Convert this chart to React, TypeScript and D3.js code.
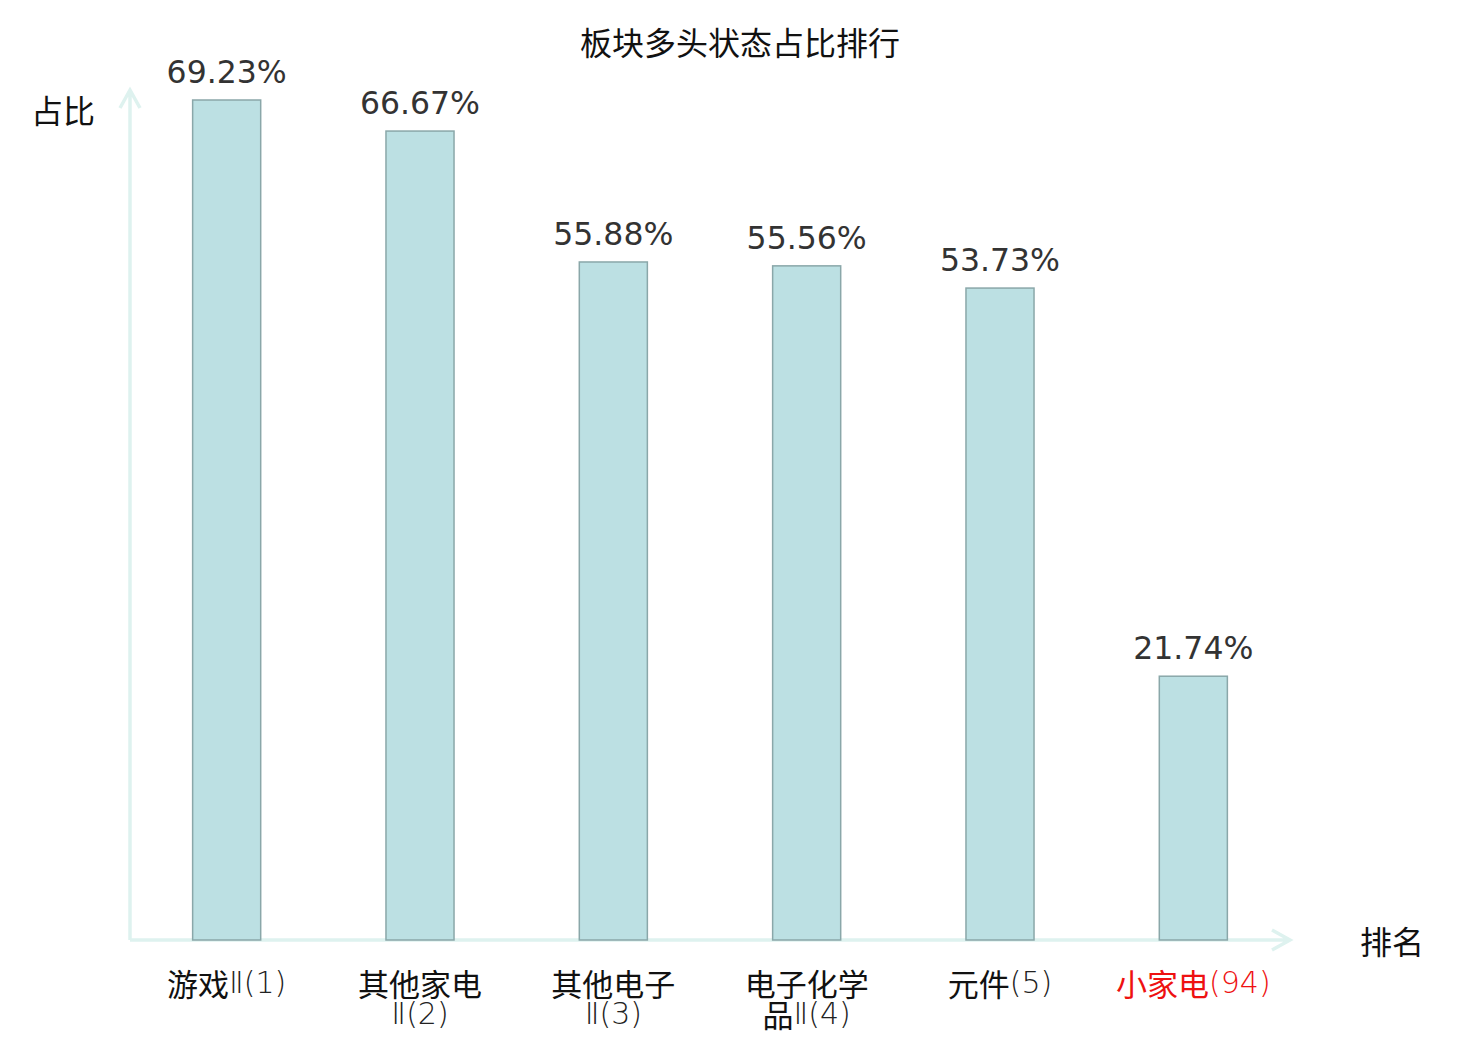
import * as d3 from 'd3';
import React from 'react';

// bull-state ratio by sector, top 5 + own sector
// each label: list of lines, each line = [cjk part, latin part]
const sectorNames: string[][][] = [
    [['游戏', 'Ⅱ(1)']],
    [['其他家电', ''], ['', 'Ⅱ(2)']],
    [['其他电子', ''], ['', 'Ⅱ(3)']],
    [['电子化学', ''], ['品', 'Ⅱ(4)']],
    [['元件', '(5)']],
    [['小家电', '(94)']],
];
const ratios: number[] = [69.23, 66.67, 55.88, 55.56, 53.73, 21.74];
const highlightIndex = 5;

const chartTitle = '板块多头状态占比排行';
const yLabel = '占比';
const xLabel = '排名';

const cjk = '"Noto Sans CJK SC", "DejaVu Sans", sans-serif';
const latin = '"DejaVu Sans", "Noto Sans CJK SC", sans-serif';

export default () => {
    const width = 1480;
    const height = 1040;
    const origin = { x: 130, y: 940 };
    const axisColor = '#def2ef';

    const ids = ratios.map((_, i) => String(i));
    const xScale = d3.scaleBand<string>()
        .domain(ids)
        .range([origin.x, 1290])
        .paddingInner(0.648)
        .paddingOuter(0.324);
    const yScale = d3.scaleLinear()
        .domain([0, d3.max(ratios) as number])
        .range([origin.y, 100]);
    const cx = (i: number) => (xScale(ids[i]) as number) + xScale.bandwidth() / 2;

    const yAxisPath = d3.path();
    yAxisPath.moveTo(origin.x, origin.y);
    yAxisPath.lineTo(origin.x, 90);
    yAxisPath.moveTo(origin.x - 10, 108);
    yAxisPath.lineTo(origin.x, 90);
    yAxisPath.lineTo(origin.x + 10, 108);

    const xAxisPath = d3.path();
    xAxisPath.moveTo(origin.x, origin.y);
    xAxisPath.lineTo(1290, origin.y);
    xAxisPath.moveTo(1272, origin.y - 10);
    xAxisPath.lineTo(1290, origin.y);
    xAxisPath.lineTo(1272, origin.y + 10);

    return (
        <svg width={width} height={height} style={{ display: 'block', position: 'absolute', left: 0, top: 0 }}>
            <rect width={width} height={height} fill="#fff" />
            <text x={740} y={41} textAnchor="middle" dominantBaseline="central"
                fontFamily={cjk} fontSize={32} fill="#111">{chartTitle}</text>

            <path d={yAxisPath.toString()} stroke={axisColor} strokeWidth={3.5} fill="none" />
            <path d={xAxisPath.toString()} stroke={axisColor} strokeWidth={3.5} fill="none" />

            <text x={63} y={109} textAnchor="middle" dominantBaseline="central"
                fontFamily={cjk} fontSize={32} fill="#111">{yLabel}</text>
            <text x={1392} y={940} textAnchor="middle" dominantBaseline="central"
                fontFamily={cjk} fontSize={32} fill="#111">{xLabel}</text>

            <g className="bars">
                {ratios.map((v, i) => (
                    <rect key={i}
                        x={xScale(ids[i])}
                        y={yScale(v)}
                        width={xScale.bandwidth()}
                        height={origin.y - yScale(v)}
                        fill="#bce0e3"
                        stroke="#8aa7a9"
                        strokeWidth={1.5} />
                ))}
            </g>

            <g className="values">
                {ratios.map((v, i) => (
                    <text key={i}
                        x={cx(i)}
                        y={yScale(v) - 17}
                        textAnchor="middle"
                        fontFamily={latin}
                        fontSize={31.5}
                        fill="#333">{v.toFixed(2) + '%'}</text>
                ))}
            </g>

            <g className="ticks">
                {sectorNames.map((lines, i) =>
                    lines.map((parts, j) => (
                        <text key={i + '-' + j}
                            x={cx(i)}
                            y={982 + j * 31}
                            textAnchor="middle"
                            dominantBaseline="central"
                            fontSize={31}
                            fill={i === highlightIndex ? '#ee1111' : '#111'}>
                            {parts[0] !== '' && <tspan fontFamily={cjk}>{parts[0]}</tspan>}
                            {parts[1] !== '' && (
                                <tspan fontFamily={latin} fontWeight={200} fontSize={30}
                                    fill={i === highlightIndex ? '#ee1111' : '#222'}>{parts[1]}</tspan>
                            )}
                        </text>
                    ))
                )}
            </g>
        </svg>
    );
}
